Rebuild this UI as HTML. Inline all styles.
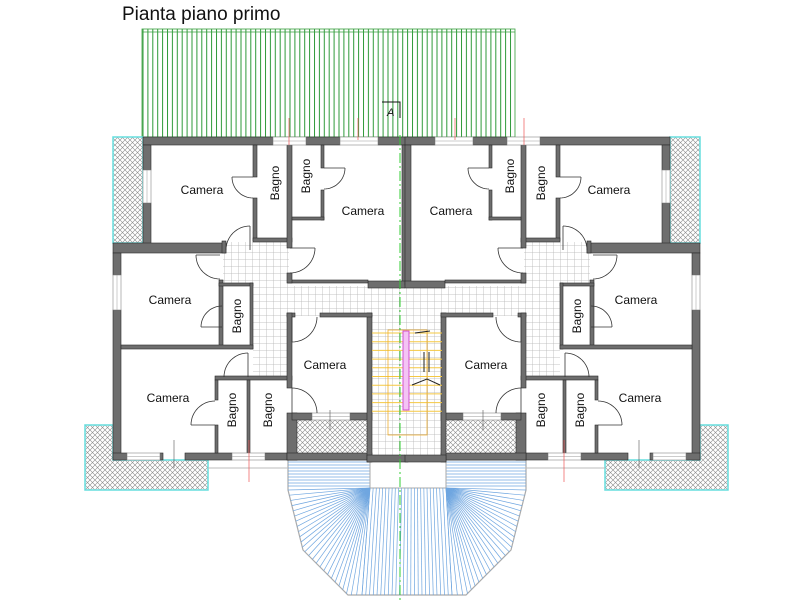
<!DOCTYPE html>
<html><head><meta charset="utf-8"><style>
html,body{margin:0;padding:0;background:#fff;width:800px;height:600px;overflow:hidden}
svg{display:block}
text{font-family:"Liberation Sans",sans-serif;fill:#111}
</style></head><body>
<svg id="s" width="800" height="600" viewBox="0 0 800 600" xmlns="http://www.w3.org/2000/svg">
<defs>
<pattern id="tile" width="7" height="7" patternUnits="userSpaceOnUse"><rect width="7" height="7" fill="#fff"/><path d="M0 0H7M0 0V7" stroke="#b4b4b4" stroke-width="0.8"/></pattern>
<pattern id="hatch" width="5" height="5" patternUnits="userSpaceOnUse"><rect width="5" height="5" fill="#fff"/><path d="M0 0L5 5M5 0L0 5" stroke="#8a8a8a" stroke-width="0.6"/></pattern>
<pattern id="roof" x="142" width="4.9" height="10" patternUnits="userSpaceOnUse"><rect width="4.9" height="10" fill="#fff"/><path d="M1 0V10" stroke="#2f9a3a" stroke-width="1"/></pattern>
</defs>
<text x="122" y="20" font-size="19">Pianta piano primo</text>
<rect x="142" y="29" width="373" height="108" fill="url(#roof)" stroke="#3aa040" stroke-width="0.8"/>
<line x1="142" y1="32" x2="515" y2="32" stroke="#3aa040" stroke-width="0.8"/>
<path d="M382 102H400V118" fill="none" stroke="#111" stroke-width="1"/>
<text x="387" y="116" font-size="11" font-style="italic">A</text>

<g id="fan"></g>

<g id="L">
<rect x="113" y="137" width="30" height="106" fill="url(#hatch)" stroke="#6dd" stroke-width="1.5"/>
<polygon points="85,425 113,425 113,460 208,460 208,490 85,490" fill="url(#hatch)" stroke="#6dd" stroke-width="1.5"/>
<rect x="297" y="420" width="70" height="36" fill="url(#hatch)"/>
<line x1="297" y1="457" x2="368" y2="457" stroke="#6dd" stroke-width="1.5"/>
<line x1="208" y1="468" x2="288" y2="468" stroke="#bbb" stroke-width="1"/>
<rect x="223" y="242" width="66" height="42" fill="url(#tile)"/>
<rect x="253" y="283" width="36" height="96" fill="url(#tile)"/>
<rect x="288" y="286" width="120" height="30" fill="url(#tile)"/>
<rect x="372" y="313" width="36" height="143" fill="url(#tile)"/>
<g fill="#6e6e6e" stroke="#2a2a2a" stroke-width="0.6">
<rect x="143" y="137" width="130" height="8"/><rect x="306" y="137" width="34" height="8"/><rect x="378" y="137" width="30" height="8"/>
<rect x="143" y="145" width="8" height="25"/><rect x="143" y="203" width="8" height="45"/>
<rect x="113" y="243" width="113" height="10"/>
<rect x="113" y="253" width="8" height="22"/><rect x="113" y="310" width="8" height="150"/>
<rect x="113" y="453" width="14" height="7"/><rect x="160" y="453" width="3" height="7"/><rect x="185" y="453" width="47" height="7"/><rect x="265" y="453" width="32" height="7"/>
<rect x="287" y="413" width="10" height="47"/><rect x="287" y="453" width="85" height="7"/>
<rect x="292" y="413" width="20" height="7"/><rect x="350" y="413" width="22" height="7"/>
<rect x="367" y="313" width="5" height="149"/><rect x="367" y="455" width="41" height="7"/>
<rect x="402" y="145" width="6" height="140"/>
<rect x="368" y="281" width="40" height="7"/><rect x="288" y="280" width="80" height="3"/>
<rect x="253" y="145" width="4" height="32"/><rect x="253" y="198" width="4" height="43"/>
<rect x="253" y="238" width="39" height="4"/>
<rect x="287" y="145" width="5" height="103"/><rect x="287" y="273" width="5" height="10"/>
<rect x="321" y="145" width="3" height="23"/><rect x="321" y="190" width="3" height="30"/><rect x="292" y="217" width="32" height="3"/>
<rect x="222" y="241" width="4" height="12"/>
<rect x="219" y="280" width="4" height="66"/>
<rect x="219" y="283" width="34" height="3"/><rect x="250" y="283" width="3" height="66"/>
<rect x="121" y="345" width="132" height="4"/>
<rect x="215" y="376" width="77" height="4"/>
<rect x="215" y="380" width="3" height="20"/><rect x="215" y="425" width="3" height="28"/>
<rect x="247" y="380" width="3" height="73"/>
<rect x="287" y="313" width="8" height="4"/><rect x="320" y="313" width="52" height="4"/>
<rect x="287" y="313" width="5" height="75"/>
</g>
<g fill="#fff" stroke="#888" stroke-width="0.6">
<rect x="273" y="137" width="33" height="8"/><rect x="340" y="137" width="38" height="8"/>
<rect x="143" y="170" width="8" height="33"/><rect x="113" y="275" width="8" height="35"/>
<rect x="127" y="453" width="33" height="7"/><rect x="232" y="453" width="33" height="7"/>
<rect x="312" y="413" width="38" height="7"/>
</g>
<g stroke="#999" stroke-width="0.5">
<line x1="273" y1="141" x2="306" y2="141"/><line x1="340" y1="141" x2="378" y2="141"/>
<line x1="147" y1="170" x2="147" y2="203"/><line x1="117" y1="275" x2="117" y2="310"/>
<line x1="127" y1="456.5" x2="160" y2="456.5"/><line x1="232" y1="456.5" x2="265" y2="456.5"/><line x1="312" y1="416.5" x2="350" y2="416.5"/>
</g>
<g id="doors" fill="none" stroke="#333" stroke-width="0.8"></g>
<g stroke="#e55" stroke-width="0.7">
<line x1="249" y1="440" x2="249" y2="482"/><line x1="289" y1="118" x2="289" y2="145"/><line x1="358" y1="118" x2="358" y2="140"/>
</g>
<g stroke="#555" stroke-width="0.6"><line x1="174" y1="440" x2="174" y2="468"/><line x1="330" y1="410" x2="330" y2="430"/></g>
</g>
<use href="#L" transform="matrix(-1 0 0 1 813 0)"/>

<g id="stair" stroke="#f5c842" stroke-width="1"></g>
<rect x="388" y="330" width="39" height="105" fill="none" stroke="#f0b030" stroke-width="0.8"/>
<rect x="403" y="331" width="6" height="79" fill="#f4c4f4" stroke="#d050d0" stroke-width="1"/>
<g stroke="#222" stroke-width="1" fill="none">
<path d="M415 333L430 331"/><path d="M424 352V372M429 352V372"/><path d="M412 385L427 379L440 385"/>
</g>
<line x1="400" y1="135" x2="400" y2="600" stroke="#3c3" stroke-width="1" stroke-dasharray="10,3,2,3"/>

<g font-size="12">
<text x="202" y="194" text-anchor="middle">Camera</text>
<text x="363" y="215" text-anchor="middle">Camera</text>
<text x="451" y="215" text-anchor="middle">Camera</text>
<text x="609" y="194" text-anchor="middle">Camera</text>
<text x="170" y="304" text-anchor="middle">Camera</text>
<text x="636" y="304" text-anchor="middle">Camera</text>
<text x="325" y="369" text-anchor="middle">Camera</text>
<text x="486" y="369" text-anchor="middle">Camera</text>
<text x="168" y="402" text-anchor="middle">Camera</text>
<text x="640" y="402" text-anchor="middle">Camera</text>
</g>
<g font-size="12" text-anchor="middle">
<text transform="translate(279,183) rotate(-90)">Bagno</text>
<text transform="translate(310,176) rotate(-90)">Bagno</text>
<text transform="translate(514,176) rotate(-90)">Bagno</text>
<text transform="translate(545,183) rotate(-90)">Bagno</text>
<text transform="translate(241,316) rotate(-90)">Bagno</text>
<text transform="translate(581,316) rotate(-90)">Bagno</text>
<text transform="translate(236,410) rotate(-90)">Bagno</text>
<text transform="translate(272,410) rotate(-90)">Bagno</text>
<text transform="translate(545,410) rotate(-90)">Bagno</text>
<text transform="translate(584,410) rotate(-90)">Bagno</text>
</g>
</svg>
<script>
var NS="http://www.w3.org/2000/svg";
function el(p,t,a){var e=document.createElementNS(NS,t);for(var k in a)e.setAttribute(k,a[k]);p.appendChild(e);return e;}
var D=document.getElementById("doors");
function door(hx,hy,r,a1,a2){var R=Math.PI/180;
 el(D,"line",{x1:hx,y1:hy,x2:hx+r*Math.cos(a1*R),y2:hy+r*Math.sin(a1*R)});
 var pts=[];for(var i=0;i<=16;i++){var a=(a1+(a2-a1)*i/16)*R;pts.push((hx+r*Math.cos(a)).toFixed(1)+","+(hy+r*Math.sin(a)).toFixed(1));}
 el(D,"polyline",{points:pts.join(" ")});}
door(253,177,21,180,90);door(250,250,24,270,180);door(324,168,21,0,90);door(290,248,25,0,90);
door(220,255,24,180,90);door(222,327,21,180,270);door(248,377,24,270,180);door(215,425,24,180,270);
door(292,317,25,90,0);door(292,413,25,270,360);
var S=document.getElementById("stair");
for(var y=333;y<=412;y+=8.7)el(S,"line",{x1:372,y1:y,x2:442,y2:y});
var F=document.getElementById("fan");
el(F,"polygon",{points:"288,460 288,490 303,550 348,595 466,595 511,550 526,490 526,460",fill:"#fff",stroke:"#aaa","stroke-width":1.2});
var c="#6fa6e0";
for(var y=462;y<=488;y+=3){el(F,"line",{x1:288,y1:y,x2:370,y2:y,stroke:c,"stroke-width":0.7});el(F,"line",{x1:446,y1:y,x2:526,y2:y,stroke:c,"stroke-width":0.7});}
el(F,"rect",{x:370,y:460,width:76,height:28,fill:"#fff",stroke:"#aaa","stroke-width":1});
function along(P,t){var L=[],tot=0;for(var i=1;i<P.length;i++){var d=Math.hypot(P[i][0]-P[i-1][0],P[i][1]-P[i-1][1]);L.push(d);tot+=d;}
 var s=t*tot;for(var i=0;i<L.length;i++){if(s<=L[i]){var f=s/L[i];return [P[i][0]+(P[i+1][0]-P[i][0])*f,P[i][1]+(P[i+1][1]-P[i][1])*f];}s-=L[i];}return P[P.length-1];}
var PL=[[288,490],[303,550],[348,595],[362,595]],PR=PL.map(function(p){return [814-p[0],p[1]];});
for(var i=0;i<=26;i++){var t=i/26,a=along(PL,t),b=along(PR,t);
 el(F,"line",{x1:370,y1:488,x2:a[0],y2:a[1],stroke:c,"stroke-width":0.7});
 el(F,"line",{x1:446,y1:488,x2:b[0],y2:b[1],stroke:c,"stroke-width":0.7});}
for(var i=0;i<=24;i++){var t=i/24;el(F,"line",{x1:370+76*t,y1:488,x2:362+90*t,y2:595,stroke:c,"stroke-width":0.7});}
</script>
</body></html>
